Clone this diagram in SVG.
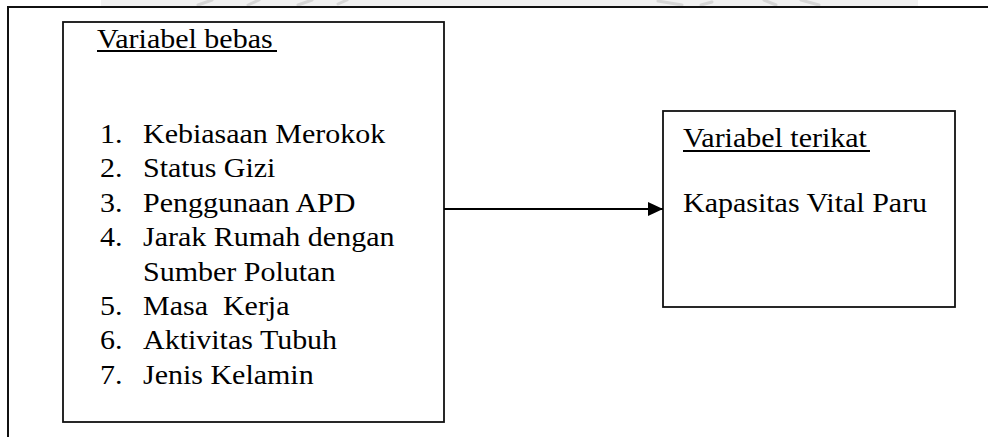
<svg xmlns="http://www.w3.org/2000/svg" width="988" height="437" viewBox="0 0 988 437">
  <defs>
    <marker id="arrow" viewBox="0 0 15 14" refX="15" refY="7" markerWidth="15" markerHeight="14" markerUnits="userSpaceOnUse" orient="auto">
      <path d="M0,0 L15,7 L0,14 Z" fill="#000"/>
    </marker>
  </defs>
  <style>
    .box { fill: #fff; stroke: #111; stroke-width: 1.8; }
    .frame { stroke: #111; stroke-width: 2; fill: none; }
    .t { font-family: "Liberation Serif", "Times New Roman", serif; font-size: 28px; fill: #000; }
    .ul { stroke: #000; stroke-width: 2; }
    .conn { stroke: #000; stroke-width: 1.8; fill: none; }
    .wm { stroke: #d6d6d6; stroke-width: 3; stroke-linecap: round; }
  </style>
  <rect width="988" height="437" fill="#fff"/>
  <g id="watermark">
    <rect x="101" y="0" width="817" height="6" fill="#f1f1f1"/>
    <line class="wm" x1="198" y1="5" x2="212" y2="0"/>
    <line class="wm" x1="248" y1="5" x2="259" y2="0"/>
    <line class="wm" x1="298" y1="5" x2="312" y2="0"/>
    <line class="wm" x1="338" y1="4" x2="347" y2="0"/>
    <line class="wm" x1="658" y1="1" x2="682" y2="5"/>
    <line class="wm" x1="701" y1="5" x2="712" y2="2"/>
    <line class="wm" x1="764" y1="0" x2="776" y2="5"/>
    <line class="wm" x1="801" y1="0" x2="819" y2="5"/>
  </g>
  <g id="frame">
    <polyline class="frame" points="988,7 8,7 8,437"/>
  </g>
  <g id="node-bebas">
    <rect class="box" x="63" y="22" width="381" height="400"/>
    <line class="ul" x1="97" y1="51" x2="277" y2="51"/>
    <g transform="scale(1.0714 1)">
      <text class="t" x="90.53" y="48">Variabel bebas</text>
      <text class="t" x="93.33" y="143">1.</text><text class="t" x="133.47" y="143">Kebiasaan Merokok</text>
      <text class="t" x="93.33" y="177.4">2.</text><text class="t" x="133.47" y="177.4">Status Gizi</text>
      <text class="t" x="93.33" y="211.8">3.</text><text class="t" x="133.47" y="211.8">Penggunaan APD</text>
      <text class="t" x="93.33" y="246.2">4.</text><text class="t" x="133.47" y="246.2">Jarak Rumah dengan</text>
      <text class="t" x="133.47" y="280.6">Sumber Polutan</text>
      <text class="t" x="93.33" y="315">5.</text><text class="t" x="133.47" y="315" xml:space="preserve">Masa  Kerja</text>
      <text class="t" x="93.33" y="349.4">6.</text><text class="t" x="133.47" y="349.4">Aktivitas Tubuh</text>
      <text class="t" x="93.33" y="383.8">7.</text><text class="t" x="133.47" y="383.8">Jenis Kelamin</text>
    </g>
  </g>
  <g id="node-terikat">
    <rect class="box" x="663" y="111" width="292" height="196"/>
    <line class="ul" x1="683" y1="151" x2="870" y2="151"/>
    <g transform="scale(1.0714 1)">
      <text class="t" x="637.48" y="147">Variabel terikat</text>
      <text class="t" x="637.48" y="212">Kapasitas Vital Paru</text>
    </g>
  </g>
  <g id="connectors">
    <line class="conn" x1="444" y1="209" x2="663" y2="209" marker-end="url(#arrow)"/>
  </g>
</svg>
